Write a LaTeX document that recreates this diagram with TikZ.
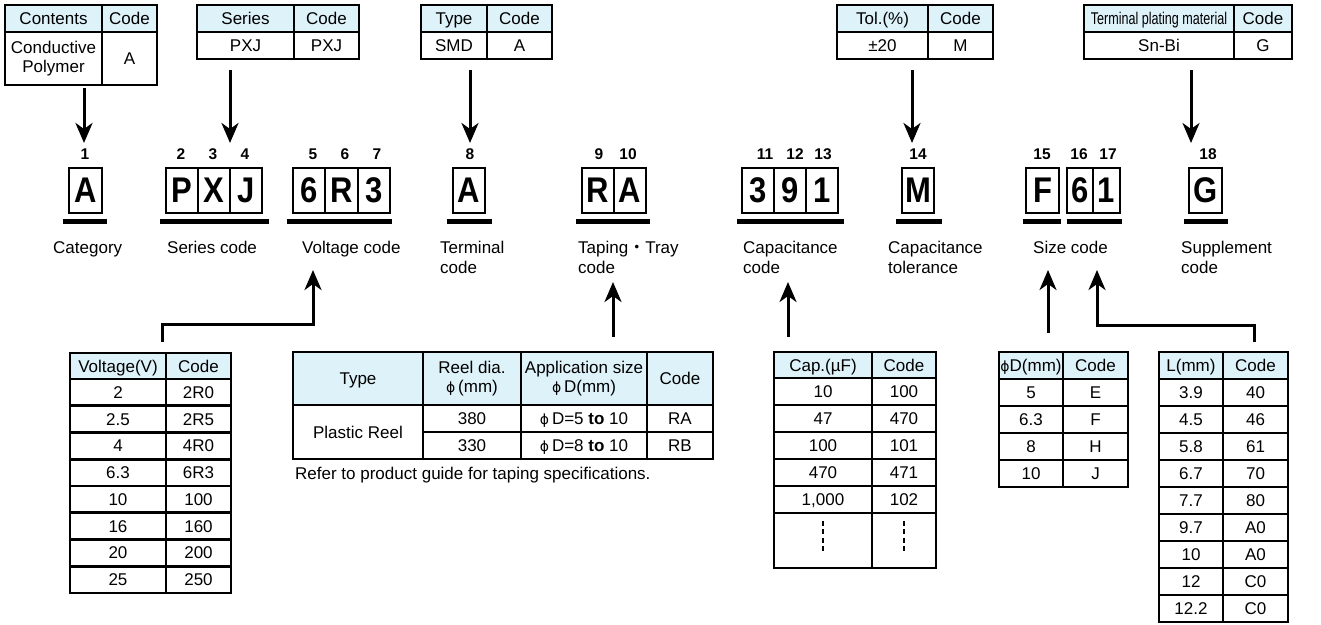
\documentclass[tikz,border=0pt]{standalone}
\usepackage{fontspec}
\setmainfont{Liberation Sans}
\newfontfamily\dv{DejaVu Sans}
\newfontfamily\cjk{Noto Sans CJK JP}
\usetikzlibrary{arrows.meta}
\definecolor{hdr}{RGB}{222,242,250}
\newcommand\phis{{\dv\fontsize{14}{14}\selectfont ϕ}}
\newcommand\cc[1]{\scalebox{1}[1.15]{#1}}
% style, name, x1, y1, x2, y2, text
\newcommand\cellat[7]{%
  \node[#1, minimum width={#5-#3}, minimum height={#6-#4}] (#2) at ({(#3+#5)/2},{(#4+#6)/2}) {#7};}
\tikzset{
  cellbase/.style={draw, line width=2.6pt, inner sep=0pt, fill=white, font=\fontsize{17}{19}\selectfont},
  cell/.style={cellbase, text height=12.2pt, text depth=0pt},
  hcell/.style={cell, fill=hdr},
  hcellm/.style={cellbase, fill=hdr, align=center},
  cellm/.style={cellbase, align=center},
  cbox/.style={draw, line width=1.3pt, inner sep=0pt, font=\bfseries\fontsize{31}{31}\selectfont},
  bar/.style={line width=5pt},
  num/.style={font=\bfseries\fontsize{15.5}{15.5}\selectfont, inner sep=0pt},
  lbl/.style={font=\fontsize{17}{20}\selectfont, align=left, anchor=north west, inner sep=0pt},
  arr/.style={line width=3pt, -{Stealth[length=20pt,width=17pt,inset=6pt]}},
  dashln/.style={line width=1.2pt, dash pattern=on 5pt off 3.5pt},
}
\begin{document}
\begin{tikzpicture}[x=1pt,y=-1pt]
\useasboundingbox (0,0) rectangle (1321,624);

% ---------- top tables ----------
\cellat{hcell}{ct1}{5}{5}{102}{32}{Contents}
\cellat{hcell}{ct2}{102}{5}{157}{32}{Code}
\cellat{cellm}{ct3}{5}{32}{102}{85}{Conductive\\Polymer}
\cellat{cell}{ct4}{102}{32}{157}{85}{A}

\cellat{hcell}{st1}{197}{5}{294}{32}{Series}
\cellat{hcell}{st2}{294}{5}{359}{32}{Code}
\cellat{cell}{st3}{197}{32}{294}{59}{PXJ}
\cellat{cell}{st4}{294}{32}{359}{59}{PXJ}

\cellat{hcell}{ty1}{421}{5}{487}{32}{Type}
\cellat{hcell}{ty2}{487}{5}{552}{32}{Code}
\cellat{cell}{ty3}{421}{32}{487}{59}{SMD}
\cellat{cell}{ty4}{487}{32}{552}{59}{A}

\cellat{hcell}{tl1}{837}{5}{928}{32}{Tol.(\%)}
\cellat{hcell}{tl2}{928}{5}{993}{32}{Code}
\cellat{cell}{tl3}{837}{32}{928}{59}{±20}
\cellat{cell}{tl4}{928}{32}{993}{59}{M}

\cellat{hcell}{tp1}{1084}{5}{1234}{32}{\scalebox{0.74}[1]{Terminal plating material}}
\cellat{hcell}{tp2}{1234}{5}{1292}{32}{Code}
\cellat{cell}{tp3}{1084}{32}{1234}{59}{Sn-Bi}
\cellat{cell}{tp4}{1234}{32}{1292}{59}{G}

% ---------- top arrows ----------
\coordinate (t1a) at (84,88);   \coordinate (t1b) at (84,143);
\coordinate (t2a) at (230,70);  \coordinate (t2b) at (230,143);
\coordinate (t3a) at (470,70);  \coordinate (t3b) at (470,143);
\coordinate (t4a) at (912,70);  \coordinate (t4b) at (912,143);
\coordinate (t5a) at (1191,70); \coordinate (t5b) at (1191,143);
\foreach \k in {1,...,5} {\draw[arr] (t\k a) -- (t\k b);}

% ---------- digit numbers ----------
\node[num] (n1) at (85,154) {1};
\node[num] (n2) at (181,154) {2};
\node[num] (n3) at (213,154) {3};
\node[num] (n4) at (245,154) {4};
\node[num] (n5) at (313,154) {5};
\node[num] (n6) at (345,154) {6};
\node[num] (n7) at (377,154) {7};
\node[num] (n8) at (470,154) {8};
\node[num] (n9) at (599,154) {9};
\node[num] (n10) at (628,154) {10};
\node[num] (n11) at (765,154) {11};
\node[num] (n12) at (795,154) {12};
\node[num] (n13) at (823,154) {13};
\node[num] (n14) at (918,154) {14};
\node[num] (n15) at (1042,154) {15};
\node[num] (n16) at (1079,154) {16};
\node[num] (n17) at (1108,154) {17};
\node[num] (n18) at (1208,154) {18};

% ---------- code boxes ----------
\cellat{cbox}{b1}{69}{168}{102}{213}{\cc{A}}
\cellat{cbox}{b2}{166}{168}{198}{213}{\cc{P}}
\cellat{cbox}{b3}{198}{168}{230}{213}{\cc{X}}
\cellat{cbox}{b4}{230}{168}{262}{213}{\cc{J}}
\cellat{cbox}{b5}{293}{168}{325}{213}{\cc{6}}
\cellat{cbox}{b6}{325}{168}{358}{213}{\cc{R}}
\cellat{cbox}{b7}{358}{168}{390}{213}{\cc{3}}
\cellat{cbox}{b8}{453}{168}{485}{213}{\cc{A}}
\cellat{cbox}{b9}{582}{168}{614}{213}{\cc{R}}
\cellat{cbox}{b10}{614}{168}{646}{213}{\cc{A}}
\cellat{cbox}{b11}{742}{168}{774}{213}{\cc{3}}
\cellat{cbox}{b12}{774}{168}{806}{213}{\cc{9}}
\cellat{cbox}{b13}{806}{168}{838}{213}{\cc{1}}
\cellat{cbox}{b14}{902}{168}{934}{213}{\cc{M}}
\cellat{cbox}{b15}{1026}{168}{1059}{213}{\cc{F}}
\cellat{cbox}{b16}{1067}{168}{1093}{213}{\cc{6}}
\cellat{cbox}{b17}{1093}{168}{1120}{213}{\cc{1}}
\cellat{cbox}{b18}{1189}{168}{1222}{213}{\cc{G}}

% ---------- bars ----------
\draw[bar] (63,221) -- (107,221);
\draw[bar] (160,221) -- (269,221);
\draw[bar] (287,221) -- (392,221);
\draw[bar] (447,221) -- (492,221);
\draw[bar] (576,221) -- (650,221);
\draw[bar] (737,221) -- (844,221);
\draw[bar] (896,221) -- (942,221);
\draw[bar] (1023,221) -- (1061,221);
\draw[bar] (1067,221) -- (1122,221);
\draw[bar] (1184,221) -- (1228,221);

% ---------- labels ----------
\node[lbl] (l1) at (53,241) {Category};
\node[lbl] (l2) at (167,241) {Series code};
\node[lbl] (l3) at (302,241) {Voltage code};
\node[lbl] (l4) at (440,241) {Terminal\\code};
\node[lbl] (l5) at (578,241) {Taping{\cjk ・}Tray\\code};
\node[lbl] (l6) at (743,241) {Capacitance\\code};
\node[lbl] (l7) at (888,241) {Capacitance\\tolerance};
\node[lbl] (l8) at (1033,241) {Size code};
\node[lbl] (l9) at (1181,241) {Supplement\\code};

% ---------- bottom connectors ----------
\coordinate (va) at (162,342); \coordinate (vb) at (162,324);
\coordinate (vc) at (313,324); \coordinate (vd) at (313,270);
\draw[arr] (va) -- (vb) -- (vc) -- (vd);
\coordinate (ra) at (613,337); \coordinate (rb) at (613,282);
\draw[arr] (ra) -- (rb);
\coordinate (ca) at (788,337); \coordinate (cb) at (788,282);
\draw[arr] (ca) -- (cb);
\coordinate (da) at (1048,333); \coordinate (db) at (1048,270);
\draw[arr] (da) -- (db);
\coordinate (la) at (1254,342); \coordinate (lb) at (1254,325);
\coordinate (lc) at (1097,325); \coordinate (ld) at (1097,270);
\draw[arr] (la) -- (lb) -- (lc) -- (ld);

% ---------- voltage table ----------
\cellat{hcell}{vh1}{70}{353}{166}{379}{Voltage(V)}
\cellat{hcell}{vh2}{166}{353}{231}{379}{Code}
\foreach \v/\c [count=\i from 0] in {2/2R0,2.5/2R5,4/4R0,6.3/6R3,10/100,16/160,20/200,25/250} {
  \pgfmathsetmacro\ya{379+\i*26.75}
  \pgfmathsetmacro\yb{\ya+26.75}
  \cellat{cell}{vx\i}{70}{\ya}{166}{\yb}{\v}
  \cellat{cell}{vy\i}{166}{\ya}{231}{\yb}{\c}
}

% ---------- taping table ----------
\cellat{hcell}{rh1}{293}{352}{423}{405}{Type}
\cellat{hcellm}{rh2}{423}{352}{521}{405}{Reel dia.\\\phis\,(mm)}
\cellat{hcellm}{rh3}{521}{352}{647}{405}{Application size\\\phis\,D(mm)}
\cellat{hcell}{rh4}{647}{352}{713}{405}{Code}
\cellat{cell}{rp}{293}{405}{423}{459}{Plastic Reel}
\cellat{cell}{r1a}{423}{405}{521}{432}{380}
\cellat{cell}{r1b}{521}{405}{647}{432}{\phis\,D=5 \textbf{to} 10}
\cellat{cell}{r1c}{647}{405}{713}{432}{RA}
\cellat{cell}{r2a}{423}{432}{521}{459}{330}
\cellat{cell}{r2b}{521}{432}{647}{459}{\phis\,D=8 \textbf{to} 10}
\cellat{cell}{r2c}{647}{432}{713}{459}{RB}
\node[font=\fontsize{17}{19}\selectfont, anchor=base west, inner sep=0pt] (note) at (295,479) {Refer to product guide for taping specifications.};

% ---------- capacitance table ----------
\cellat{hcell}{ch1}{774}{352}{872}{378}{Cap.(µF)}
\cellat{hcell}{ch2}{872}{352}{936}{378}{Code}
\cellat{cell}{c1a}{774}{378}{872}{405}{10}
\cellat{cell}{c1b}{872}{378}{936}{405}{100}
\cellat{cell}{c2a}{774}{405}{872}{432}{47}
\cellat{cell}{c2b}{872}{405}{936}{432}{470}
\cellat{cell}{c3a}{774}{432}{872}{459}{100}
\cellat{cell}{c3b}{872}{432}{936}{459}{101}
\cellat{cell}{c4a}{774}{459}{872}{486}{470}
\cellat{cell}{c4b}{872}{459}{936}{486}{471}
\cellat{cell}{c5a}{774}{486}{872}{513}{1,000}
\cellat{cell}{c5b}{872}{486}{936}{513}{102}
\cellat{cell}{c6a}{774}{513}{872}{568}{}
\cellat{cell}{c6b}{872}{513}{936}{568}{}
\draw[dashln] ([yshift=-9pt]c6a.north) -- ([yshift=15pt]c6a.south);
\draw[dashln] ([yshift=-9pt]c6b.north) -- ([yshift=15pt]c6b.south);

% ---------- diameter table ----------
\cellat{hcell}{dh1}{999}{352}{1063}{379}{\phis D(mm)}
\cellat{hcell}{dh2}{1063}{352}{1128}{379}{Code}
\foreach \v/\c [count=\i from 0] in {5/E,6.3/F,8/H,10/J} {
  \pgfmathsetmacro\ya{379+\i*27}
  \pgfmathsetmacro\yb{\ya+27}
  \cellat{cell}{dx\i}{999}{\ya}{1063}{\yb}{\v}
  \cellat{cell}{dy\i}{1063}{\ya}{1128}{\yb}{\c}
}

% ---------- length table ----------
\cellat{hcell}{lh1}{1159}{352}{1223}{379}{L(mm)}
\cellat{hcell}{lh2}{1223}{352}{1288}{379}{Code}
\foreach \v/\c [count=\i from 0] in {3.9/40,4.5/46,5.8/61,6.7/70,7.7/80,9.7/A0,10/A0,12/C0,12.2/C0} {
  \pgfmathsetmacro\ya{379+\i*27}
  \pgfmathsetmacro\yb{\ya+27}
  \cellat{cell}{lx\i}{1159}{\ya}{1223}{\yb}{\v}
  \cellat{cell}{ly\i}{1223}{\ya}{1288}{\yb}{\c}
}
\end{tikzpicture}
\end{document}
